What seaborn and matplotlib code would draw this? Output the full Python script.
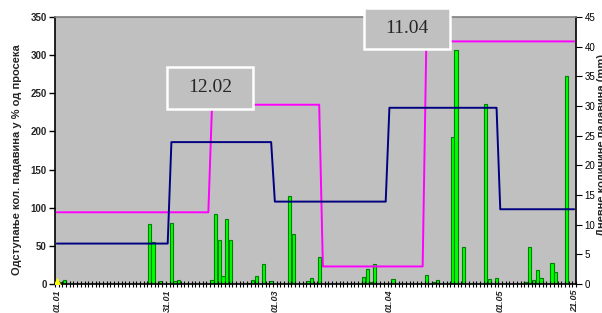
import numpy as np
import pandas as pd
import matplotlib
matplotlib.use("Agg")
import matplotlib.pyplot as plt
import seaborn as sns
from matplotlib.patches import Rectangle

# days counted from 01.01 (day 0) to 21.05 (day 140)
n_days = 141
rain_day = [1, 2, 25, 26, 28, 31, 32, 33, 42, 43, 44, 45, 46, 47, 52, 53, 54, 56, 58,
            63, 64, 68, 69, 71, 83, 84, 85, 86, 91, 100, 102, 103, 107, 108, 110,
            116, 117, 119, 127, 128, 129, 130, 131, 134, 135, 138]
rain_mm = [0.4, 0.7, 10.1, 7.1, 0.5, 10.3, 0.5, 0.6, 0.7, 11.8, 7.5, 1.35, 11.0, 7.5,
           0.2, 0.7, 1.35, 3.4, 0.45, 14.8, 8.4, 0.5, 1.0, 4.55, 1.2, 2.5, 0.4, 3.4,
           0.9, 1.5, 0.3, 0.7, 24.8, 39.4, 6.2, 30.4, 0.85, 1.0, 0.3, 6.2, 0.6, 2.4,
           1.0, 3.5, 2.0, 35.0]

# step lines (% of average), level holds from each start day
navy_start = [0, 31, 59, 90, 120]
navy_level = [53, 186, 108, 231, 98]
pink_start = [0, 42, 72, 100]
pink_level = [94, 235, 23, 318]

marker_day = [0]
marker_val = [4]

date_days = [0, 30, 59, 90, 120, 140]
date_labels = ["01.01", "31.01", "01.03", "01.04", "01.05", "21.05"]


def expand(starts, levels):
    return np.repeat(levels, np.diff(starts + [n_days]))


days = np.arange(n_days)
rain = pd.DataFrame({"day": rain_day, "mm": rain_mm})

sns.set_style("white")
plt.rcParams["font.family"] = ["Liberation Sans", "DejaVu Sans"]

fig = plt.figure(figsize=(6.02, 3.13), dpi=100)
ax = fig.add_axes([55 / 602, 1 - 284 / 313, 521 / 602, 267 / 313])
ax2 = ax.twinx()

# bars on the right axis, lines on the left axis drawn in front
sns.barplot(data=rain, x="day", y="mm", native_scale=True, ax=ax2, color="#00FF00",
            edgecolor="#008000", linewidth=0.8, width=0.9, saturation=1)
sns.lineplot(x=days, y=expand(pink_start, pink_level), ax=ax, color="#FF00FF", lw=1.4)
sns.lineplot(x=days, y=expand(navy_start, navy_level), ax=ax, color="#000080", lw=1.4)
sns.scatterplot(x=marker_day, y=marker_val, ax=ax, marker="^", color="#FFFF00",
                s=30, linewidth=0, zorder=5)

ax.set_zorder(ax2.get_zorder() + 1)
ax.patch.set_visible(False)
ax2.patch.set_visible(True)
ax2.set_facecolor("#C0C0C0")

ax.set_xlim(-0.5, n_days - 0.5)
ax.set_ylim(0, 350)
ax2.set_ylim(0, 45)
ax.set_yticks(np.arange(0, 351, 50))
ax2.set_yticks(np.arange(0, 46, 5))

ax.set_xticks(date_days)
ax.set_xticklabels(date_labels, rotation=90, fontsize=6.5, fontstyle="italic",
                   fontweight="bold")
ax.set_xticks(np.arange(-0.5, n_days, 1), minor=True)
ax.tick_params(axis="x", which="major", bottom=True, length=0, pad=4)
ax.tick_params(axis="x", which="minor", bottom=True, direction="inout", length=5,
               width=0.8, color="black")
ax.tick_params(axis="y", left=True, direction="out", length=4, width=1, labelsize=7,
               pad=2, color="black")
for lab in ax.get_yticklabels():
    lab.set_fontweight("bold")
ax2.tick_params(axis="y", right=True, direction="out", length=4, width=0.8,
                labelsize=7, pad=2, colors="black")

ax.set_xlabel("")
ax.set_ylabel("")
ax2.set_xlabel("")
ax2.set_ylabel("")

for s in ax2.spines.values():
    s.set_visible(False)
for side in ["left", "bottom", "right"]:
    ax.spines[side].set_visible(True)
    ax.spines[side].set_color("black")
    ax.spines[side].set_linewidth(1.2)
ax.spines["top"].set_visible(True)
ax.spines["top"].set_color("#808080")
ax.spines["top"].set_linewidth(1.2)

fig.text(17 / 602, 1 - 160 / 313, "Одступање кол. падавина у % од просека",
         rotation=90, ha="center", va="center", fontsize=8, fontweight="bold")
fig.text(597 / 602, 1 - 145 / 313, "Дневне количине падавина (mm)",
         rotation=90, ha="left", va="center", fontsize=8, fontweight="bold")

# date boxes
boxes = [(166.7, 66.7, 86.6, 42.3, "12.02"), (364, 8.3, 86, 40.7, "11.04")]
for bx, by, bw, bh, txt in boxes:
    fig.patches.append(Rectangle((bx / 602, 1 - (by + bh) / 313), bw / 602, bh / 313,
                                 transform=fig.transFigure, facecolor="#C0C0C0",
                                 edgecolor="white", linewidth=1.8, zorder=10))
    fig.text((bx + bw / 2) / 602, 1 - (by + bh / 2) / 313, txt, ha="center",
             va="center", fontsize=14, family="Liberation Serif", zorder=11)

fig.savefig("out.png", dpi=100)
